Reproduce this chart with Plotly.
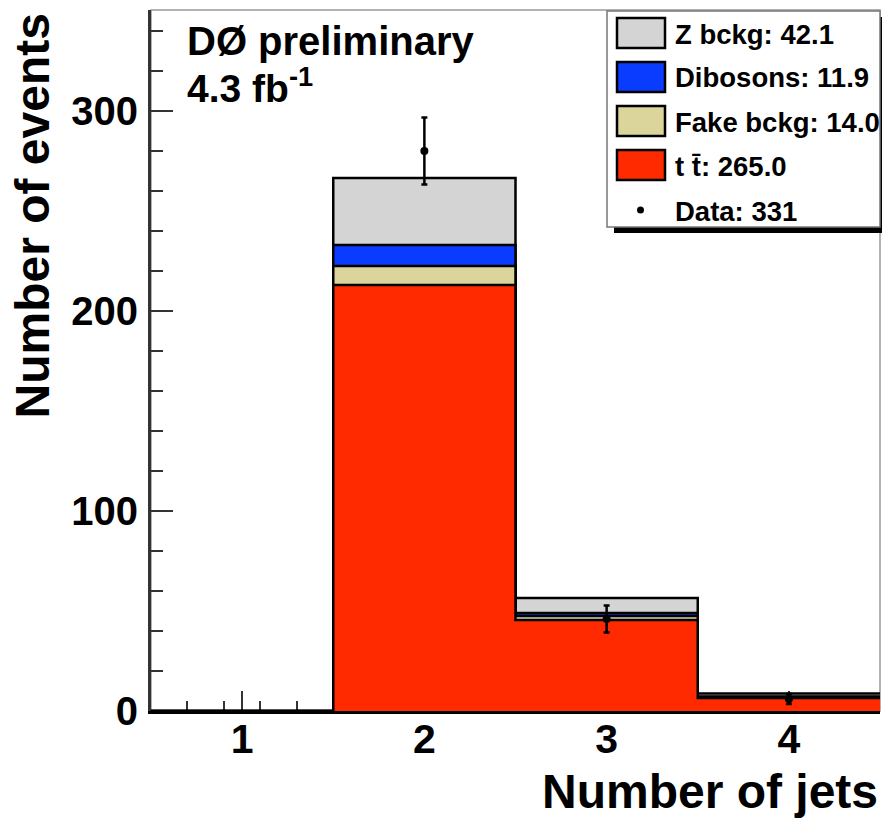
import numpy as np
import plotly.graph_objects as go

# ---------------- data ----------------
n_jets = [1, 2, 3, 4]
ttbar = [0.0, 213.0, 45.5, 6.5]
fake = [0.0, 9.5, 2.0, 0.5]
dibosons = [0.0, 10.5, 1.5, 0.3]
zbckg = [0.0, 33.5, 7.5, 1.5]
data = [0, 280, 46, 6]

legend_labels = ["Z bckg: 42.1", "Dibosons: 11.9", "Fake bckg: 14.0", "t t\u0304: 265.0", "Data: 331"]
tick_y = [0, 100, 200, 300]
tick_x = [1, 2, 3, 4]

# ---------------- style ----------------
C_Z = "#d4d4d4"
C_DIB = "#0a3cff"
C_FAKE = "#dbd59c"
C_TT = "#ff2a00"
FONT = "Liberation Sans"

W, H = 882, 819
ML, MR, MT, MB = 151, 2, 10, 108
PW, PH = W - ML - MR, H - MT - MB


def px(x):
    return (x - ML) / PW


def py(y):
    return (H - MB - y) / PH


edges = [c - 0.5 for c in n_jets] + [n_jets[-1] + 0.5]

layers = [ttbar, fake, dibosons, zbckg]
colors = [C_TT, C_FAKE, C_DIB, C_Z]
cum = np.cumsum(np.array(layers), axis=0)

fig = go.Figure()
# draw from top of stack downward, so lower layers overlay
for i in reversed(range(len(layers))):
    yv = list(cum[i]) + [cum[i][-1]]
    fig.add_trace(go.Scatter(
        x=edges, y=yv, mode="lines", line=dict(shape="hv", color="black", width=2.5),
        fill="tozeroy", fillcolor=colors[i], showlegend=False, hoverinfo="skip"))

dx = [c for c, d in zip(n_jets, data) if d > 0]
dy = [d for d in data if d > 0]
fig.add_trace(go.Scatter(
    x=dx, y=dy, mode="markers", marker=dict(color="black", size=8),
    error_y=dict(type="data", array=list(np.sqrt(dy)), color="black", thickness=2.5, width=3),
    showlegend=False))

shapes = []
annotations = []

# frame (light)
shapes.append(dict(type="rect", xref="paper", yref="paper", x0=0, y0=0, x1=1, y1=1,
                   line=dict(color="#999999", width=1.5), layer="below"))

# legend box
lx0, lx1, ly0, ly1 = 607, 880, 11, 227
shapes.append(dict(type="rect", xref="paper", yref="paper", x0=px(lx0 + 7), x1=px(lx1 + 7),
                   y0=py(ly1 + 6), y1=py(ly0 + 6), fillcolor="black", line=dict(width=0)))
shapes.append(dict(type="rect", xref="paper", yref="paper", x0=px(lx0), x1=px(lx1),
                   y0=py(ly1), y1=py(ly0), fillcolor="white", line=dict(color="#777777", width=1.5)))
row_y = [33, 77, 121, 165, 210]
sw_colors = [C_Z, C_DIB, C_FAKE, C_TT]
for k, c in enumerate(sw_colors):
    shapes.append(dict(type="rect", xref="paper", yref="paper", x0=px(617), x1=px(665),
                       y0=py(row_y[k] + 15), y1=py(row_y[k] - 15), fillcolor=c,
                       line=dict(color="black", width=2.5)))
shapes.append(dict(type="circle", xref="paper", yref="paper", x0=px(637), x1=px(644),
                   y0=py(row_y[4] + 3.5), y1=py(row_y[4] - 3.5), fillcolor="black",
                   line=dict(width=0)))
for k, lab in enumerate(legend_labels):
    annotations.append(dict(text=lab, xref="paper", yref="paper", x=px(673), y=py(row_y[k] + 1),
                            xanchor="left", yanchor="middle", showarrow=False,
                            font=dict(family=FONT, size=27.5, color="black", weight="bold")))

# header text
annotations.append(dict(text="DØ preliminary", xref="paper", yref="paper", x=px(185), y=py(41),
                        xanchor="left", yanchor="middle", showarrow=False,
                        font=dict(family=FONT, size=40, color="black", weight="bold")))
annotations.append(dict(text="4.3 fb<sup>-1</sup>", xref="paper", yref="paper", x=px(185), y=py(85),
                        xanchor="left", yanchor="middle", showarrow=False,
                        font=dict(family=FONT, size=39, color="black", weight="bold")))

# axis titles
annotations.append(dict(text="Number of jets", xref="paper", yref="paper", x=px(880), y=py(791),
                        xanchor="right", yanchor="middle", showarrow=False,
                        font=dict(family=FONT, size=48, color="black", weight="bold")))
annotations.append(dict(text="Number of events", xref="paper", yref="paper", x=px(32), y=py(12),
                        xanchor="center", yanchor="top", textangle=-90, showarrow=False,
                        font=dict(family=FONT, size=48, color="black", weight="bold")))

fig.update_layout(
    width=W, height=H, margin=dict(l=ML, r=MR, t=MT, b=MB),
    paper_bgcolor="white", plot_bgcolor="white",
    shapes=shapes, annotations=annotations, showlegend=False,
    xaxis=dict(range=[0.5, 4.5], tickvals=tick_x, ticks="inside", ticklen=20, tickwidth=2,
               tickcolor="#333333", showgrid=False, zeroline=False, showline=True,
               linecolor="black", linewidth=3, layer="below traces",
               minor=dict(dtick=0.2, tick0=0.5, ticks="inside", ticklen=10, tickwidth=1.5, tickcolor="#333333"),
               tickfont=dict(family=FONT, size=41, color="black", weight="bold"),
               ticklabelstandoff=-10),
    yaxis=dict(range=[0, 350.5], tickvals=tick_y, ticks="inside", ticklen=22, tickwidth=2,
               tickcolor="#333333", showgrid=False, zeroline=False, showline=True,
               linecolor="#333333", linewidth=3, layer="below traces",
               minor=dict(dtick=20, ticks="inside", ticklen=12, tickwidth=1.5, tickcolor="#333333"),
               tickfont=dict(family=FONT, size=40, color="black", weight="bold"),
               ticklabelstandoff=2),
)

fig.write_html("out.html")
